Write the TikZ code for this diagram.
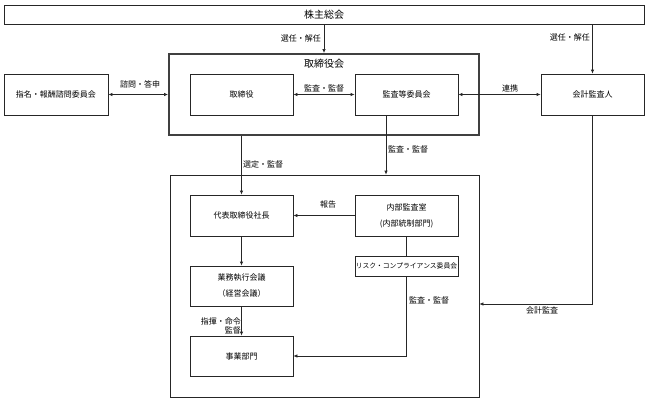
\documentclass[tikz,border=0pt]{standalone}
\usepackage{fontspec}
\setmainfont{Noto Sans CJK JP}
\usetikzlibrary{arrows.meta,calc}
\begin{document}
\begin{tikzpicture}[x=1pt,y=-1pt,
  box/.style={draw=black!85,line width=0.7pt,inner sep=0pt,font=\fontsize{8}{16}\selectfont,align=center},
  bigbox/.style={draw=black!75,line width=2pt,inner sep=0pt},
  arr/.style={draw=black!85,line width=0.7pt,-{Latex[length=4pt,width=3.5pt]}},
  darr/.style={draw=black!85,line width=0.7pt,{Latex[length=4pt,width=3.5pt]}-{Latex[length=4pt,width=3.5pt]}},
  ln/.style={draw=black!85,line width=0.7pt},
  lbl/.style={font=\fontsize{8}{9}\selectfont,inner sep=0pt}]
\useasboundingbox[fill=white] (0,0) rectangle (648,400);

% boxes
\node[box,font=\fontsize{10}{12}\selectfont,minimum width=640pt,minimum height=19pt] (top) at (324,14.5) {株主総会};
\node[bigbox,minimum width=310pt,minimum height=81pt] (board) at (324,94.5) {};
\node[lbl,font=\fontsize{10}{12}\selectfont] (boardt) at (324,64) {取締役会};
\node[box,minimum width=104pt,minimum height=41pt] (shimei) at (56,94.5) {指名・報酬諮問委員会};
\node[box,minimum width=103pt,minimum height=41pt] (tori) at (241.5,94.5) {取締役};
\node[box,minimum width=103pt,minimum height=41pt] (kansa) at (406.5,94.5) {監査等委員会};
\node[box,minimum width=103pt,minimum height=41pt] (kaikei) at (592.5,94.5) {会計監査人};

\node[box,minimum width=309pt,minimum height=222pt] (exec) at (324.5,286) {};
\node[box,minimum width=103pt,minimum height=41pt] (daihyo) at (241.5,215.5) {代表取締役社長};
\node[box,minimum width=103pt,minimum height=41pt] (naibu) at (406.5,215.5) {内部監査室\\(内部統制部門)};
\node[box,minimum width=103pt,minimum height=40pt] (gyomu) at (241.5,286) {業務執行会議\\（経営会議）};
\node[box,minimum width=103pt,minimum height=40pt] (jigyo) at (241.5,356) {事業部門};
\node[box,font=\fontsize{6.8}{8}\selectfont,minimum width=103pt,minimum height=20pt] (risk) at (406.5,266) {リスク・コンプライアンス委員会};

% connectors
\draw[arr] (top.south) -- (board.north);
\node[lbl,anchor=east] (l1) at (321,38) {選任・解任};
\draw[arr] (top.south -| kaikei.north) -- (kaikei.north);
\node[lbl,anchor=east] (l2) at (590,37) {選任・解任};

\draw[darr] (shimei.east) -- (shimei.east -| board.west);
\node[lbl] (l3) at (140,84) {諮問・答申};
\draw[darr] (tori.east) -- (kansa.west);
\node[lbl] (l4) at (324,88) {監査・監督};
\draw[darr] (kansa.east) -- (kaikei.west);
\node[lbl] (l5) at (510,88) {連携};

\draw[arr] (board.south -| daihyo.north) -- (daihyo.north);
\node[lbl] (l6) at (263,164) {選定・監督};
\draw[arr] ([xshift=-20.5pt]kansa.south) -- ([xshift=-20.5pt]kansa.south |- exec.north);
\node[lbl] (l7) at (408,149) {監査・監督};

\draw[arr] (naibu.west) -- (daihyo.east);
\node[lbl] (l8) at (328,204) {報告};
\draw[arr] (daihyo.south) -- (gyomu.north);
\draw[arr] (gyomu.south) -- (jigyo.north);
\node[lbl,anchor=east,align=right] (l9) at (241,325.5) {指揮・命令\\監督};
\draw[ln] (naibu.south) -- (risk.north);
\draw[arr] (risk.south) |- (jigyo.east);
\node[lbl] (l10) at (429,300) {監査・監督};

\coordinate (ka) at (592.5,304);
\draw[arr] (kaikei.south) -- (ka) -- (ka -| exec.east);
\node[lbl] (l11) at (542,310) {会計監査};
\end{tikzpicture}
\end{document}
